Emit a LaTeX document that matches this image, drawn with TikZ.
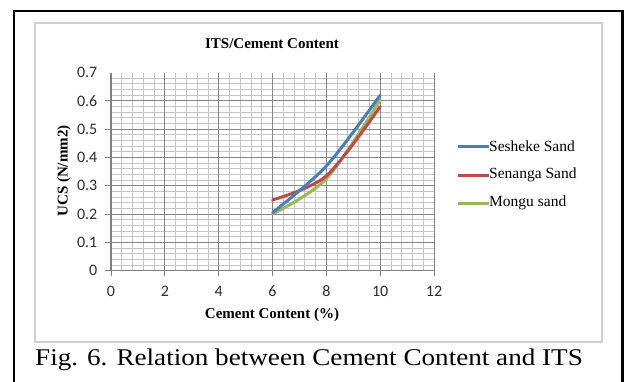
\documentclass[tikz,border=0pt]{standalone}
\usepackage{fontspec}
\setmainfont{Liberation Serif}
\newfontfamily\tickfont{Carlito}
\definecolor{sesheke}{HTML}{4A7EBB}
\definecolor{senanga}{HTML}{BE4B48}
\definecolor{mongu}{HTML}{98B954}
\definecolor{minorgrid}{HTML}{C4C4C4}
\definecolor{majorgrid}{HTML}{858585}
\definecolor{axisgray}{HTML}{808080}
\definecolor{framegray}{HTML}{CFCFCF}
\tikzset{
  ticklab/.style={font=\tickfont\fontsize{16}{18}\selectfont, text=black!82, inner sep=0pt},
  boldlab/.style={font=\bfseries\fontsize{15}{17}\selectfont, inner sep=0pt},
  leglab/.style={font=\fontsize{15.5}{18}\selectfont, inner sep=0pt, anchor=west},
  series/.style={line width=3pt, smooth, tension=0.5, line cap=round},
}
\begin{document}
\begin{tikzpicture}[x=1pt,y=-1pt]
\useasboundingbox (0,0) rectangle (627,381);
\fill[white] (0,0) rectangle (627,381);
% outer black frame
\draw[line width=2.6pt] (14,395) -- (14,11) -- (622.5,11) -- (622.5,395);
% chart area frame
\draw[framegray, line width=1.8pt] (35,23) rectangle (602,342);
% title
\node[boldlab] (title) at (272,44) {ITS/Cement Content};
% plot
\begin{scope}[shift={(111,270.7)}, x=26.92pt, y=283pt]
  \draw[minorgrid, line width=0.8pt] (0,0) grid[xstep=0.4,ystep=0.02] (12,0.7);
  \draw[majorgrid, line width=1pt] (0,0) grid[xstep=2,ystep=0.1] (12,0.7);
  \draw[axisgray, line width=1.3pt] (0,0.7) -- (0,0) -- (12,0);
  \foreach \yv in {0,0.1,...,0.7} {
    \draw[axisgray, line width=1pt] (-0.22,\yv) -- (0,\yv);
  }
  \foreach \xv in {0,2,...,12} {
    \draw[axisgray, line width=1pt] (\xv,0) -- (\xv,-0.018);
  }
  \foreach \yv/\lab in {0/0,0.1/0.1,0.2/0.2,0.3/0.3,0.4/0.4,0.5/0.5,0.6/0.6,0.7/0.7} {
    \node[ticklab, anchor=east] (yl\lab) at (-0.5,\yv) {\lab};
  }
  \foreach \xv in {0,2,4,6,8,10,12} {
    \node[ticklab] (xl\xv) at (\xv,-0.072) {\xv};
  }
  \draw[mongu, series] plot coordinates {(6,0.2) (8,0.325) (10,0.603)};
  \draw[senanga, series] plot coordinates {(6,0.25) (8,0.335) (10,0.58)};
  \draw[sesheke, series] plot coordinates {(6,0.205) (8,0.37) (10,0.62)};
\end{scope}
% axis titles
\node[boldlab, rotate=90] (ylab) at (64,171) {UCS (N/mm2)};
\node[boldlab] (xlab) at (272,315) {Cement Content (\%)};
% legend
\node[leglab] (l1) at (489,146) {Sesheke Sand};
\node[leglab] (l2) at (489,175) {Senanga Sand};
\node[leglab] (l3) at (489,203) {Mongu sand};
\coordinate (c1) at (458,146);
\coordinate (c2) at (458,175);
\coordinate (c3) at (458,203);
\draw[sesheke, line width=3pt] (c1) -- (l1.west);
\draw[senanga, line width=3pt] (c2) -- (l2.west);
\draw[mongu, line width=3pt] (c3) -- (l3.west);
% caption
\node[anchor=west, inner sep=0pt] (cap) at (35,360) {\scalebox{1.13}[1]{\fontsize{24}{28}\selectfont Fig. 6. Relation between Cement Content and ITS}};
\end{tikzpicture}
\end{document}
